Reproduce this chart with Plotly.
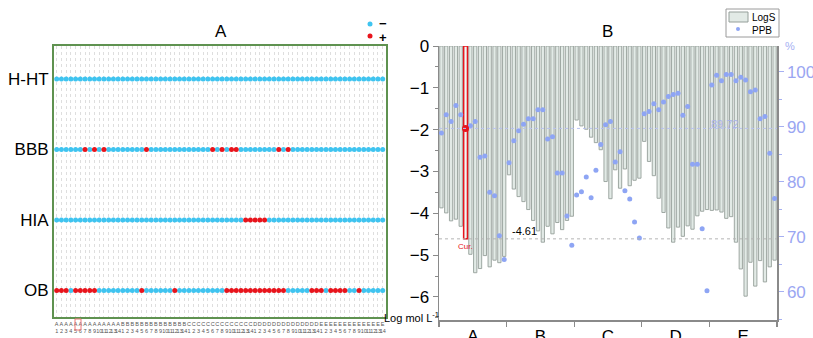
import plotly.graph_objects as go

W, H = 813, 338
FONT = "Arial, 'Liberation Sans', sans-serif"

# ---------------- data ----------------
groups = ["A", "B", "C", "D", "E"]
group_size = 14
numbers = [str(k) for k in range(1, 15)]
properties = ["H-HT", "BBB", "HIA", "OB"]

# 1 = "+" (red), 0 = "-" (cyan); 14 compounds per group A..E
flags_HHT = [0,0,0,0,0,0,0,0,0,0,0,0,0,0,  0,0,0,0,0,0,0,0,0,0,0,0,0,0,
             0,0,0,0,0,0,0,0,0,0,0,0,0,0,  0,0,0,0,0,0,0,0,0,0,0,0,0,0,
             0,0,0,0,0,0,0,0,0,0,0,0,0,0]
flags_BBB = [0,0,0,0,0,0,1,0,1,0,1,0,0,0,  0,0,0,0,0,1,0,0,0,0,0,0,0,0,
             0,0,0,0,0,1,0,1,0,1,1,0,0,0,  0,0,0,0,0,1,0,1,0,0,0,0,0,0,
             0,0,0,0,0,0,0,0,0,0,0,0,0,0]
flags_HIA = [0,0,0,0,0,0,0,0,0,0,0,0,0,0,  0,0,0,0,0,0,0,0,0,0,0,0,0,0,
             0,0,0,0,0,0,0,0,0,0,0,0,1,1,  1,1,1,0,0,0,0,0,0,0,0,0,0,0,
             0,0,0,0,0,0,0,0,0,0,0,0,0,0]
flags_OB  = [1,1,1,0,1,1,1,1,1,0,0,0,0,0,  0,0,0,0,1,0,0,0,0,0,0,1,0,0,
             0,0,0,0,0,0,0,0,1,1,1,1,1,1,  1,1,1,1,1,1,1,0,0,0,0,0,1,1,
             1,0,1,1,1,1,0,0,1,0,0,0,0,0]

# LogS (log mol/L) per compound
logS_A = [-3.87, -3.99, -4.18, -4.14, -4.31, -4.61, -4.98, -5.42, -5.32, -5.01, -5.28, -5.12, -5.18, -5.03]
logS_B = [-3.08, -3.42, -3.60, -3.72, -3.91, -4.17, -4.42, -4.69, -4.31, -4.49, -4.22, -4.39, -4.17, -4.07]
logS_C = [-1.77, -1.91, -1.99, -2.18, -2.31, -2.48, -3.24, -3.65, -2.96, -3.40, -2.94, -3.34, -3.21, -3.16]
logS_D = [-2.28, -2.76, -3.10, -3.64, -3.98, -4.35, -4.69, -4.33, -4.55, -4.30, -4.38, -4.06, -3.95, -3.91]
logS_E = [-3.93, -3.92, -3.97, -4.12, -4.08, -4.69, -5.33, -5.98, -5.17, -5.74, -5.13, -5.64, -5.28, -5.12]

# PPB (%) per compound
ppb_A = [88.9, 92.2, 91.0, 93.9, 92.2, 89.72, 90.2, 91.0, 84.5, 84.7, 78.1, 77.5, 70.2, 65.9]
ppb_B = [83.5, 87.5, 89.3, 90.5, 91.5, 91.5, 93.1, 93.1, 87.8, 88.2, 81.6, 81.6, 73.8, 68.5]
ppb_C = [77.6, 78.2, 80.9, 77.1, 82.1, 86.8, 90.4, 91.0, 83.6, 85.5, 78.4, 76.9, 72.7, 69.8]
ppb_D = [92.4, 92.8, 94.2, 93.1, 94.5, 95.5, 95.9, 96.1, 92.1, 93.7, 83.2, 83.2, 71.5, 60.2]
ppb_E = [97.6, 99.4, 98.4, 99.5, 99.5, 98.4, 99.0, 98.5, 96.4, 96.7, 91.5, 91.9, 85.2, 77.0]

current_index = 5          # compound A6
right_ticks = [60, 70, 80, 90, 100]

# ---------------- derived ----------------
logS = logS_A + logS_B + logS_C + logS_D + logS_E
ppb = ppb_A + ppb_B + ppb_C + ppb_D + ppb_E
n = len(logS)
idx = list(range(n))
tick_text = [f"{g}<br>{k}" for g in groups for k in numbers]
flag_rows = [flags_HHT, flags_BBB, flags_HIA, flags_OB]
row_pos = {p: len(properties) - 1 - i for i, p in enumerate(properties)}

def px(x):
    return x / W

def py(y):
    return 1 - y / H

CYAN = "#3fc4f0"
RED = "#e8141c"
GREEN = "#5f9250"
BAR_FILL = "#e2eae6"
BAR_LINE = "#959f9a"
PPB_COL = "#8ea5f4"
AX_GRAY = "#8a8a8a"

fig = go.Figure()

# ---------- left panel: dot matrix ----------
for flag_val, col, name in [(0, CYAN, "−"), (1, RED, "+")]:
    xs, ys = [], []
    for p, fl in zip(properties, flag_rows):
        for i, f in enumerate(fl):
            if f == flag_val:
                xs.append(i)
                ys.append(row_pos[p])
    fig.add_trace(go.Scatter(x=xs, y=ys, mode="markers", name=name,
                             marker=dict(color=col, size=5, line=dict(width=0)),
                             xaxis="x", yaxis="y", showlegend=False))

# ---------- right panel ----------
fig.add_trace(go.Bar(x=idx, y=logS, xaxis="x2", yaxis="y2", name="LogS",
                     width=0.68, marker=dict(color=BAR_FILL, line=dict(color=BAR_LINE, width=0.9)),
                     showlegend=False))
fig.add_trace(go.Bar(x=[current_index], y=[logS[current_index]], xaxis="x2", yaxis="y2",
                     width=0.8, marker=dict(color="rgba(255,255,255,0.6)", line=dict(color=RED, width=1.5)),
                     showlegend=False))
fig.add_trace(go.Scatter(x=idx, y=ppb, xaxis="x2", yaxis="y3", mode="markers", name="PPB",
                         marker=dict(color=PPB_COL, size=5, line=dict(width=0)), showlegend=False))
fig.add_trace(go.Scatter(x=[current_index], y=[ppb[current_index]], xaxis="x2", yaxis="y3", mode="markers",
                         marker=dict(color=RED, size=7, line=dict(width=0)), showlegend=False))

lp_x0, lp_x1, lp_y0, lp_y1 = 54, 386, 46, 317
rp_x0, rp_x1, rp_y0, rp_y1 = 439, 777, 46, 320

boundaries = [g * group_size - 0.5 for g in range(len(groups) + 1)]
centers = [g * group_size + (group_size - 1) / 2 for g in range(len(groups))]

fig.update_layout(
    template="none",
    width=W, height=H, margin=dict(l=0, r=0, t=0, b=0, pad=0), autosize=False,
    paper_bgcolor="white", plot_bgcolor="white",
    font=dict(family=FONT, color="#000"),
    barmode="overlay", showlegend=False,
    xaxis=dict(domain=[px(lp_x0), px(lp_x1)], anchor="y", range=[-0.57, n - 0.3], automargin=False,
               tickmode="array", tickvals=idx, ticktext=tick_text, tickangle=0,
               tickfont=dict(size=5.5, color="#555"), ticks="",
               showgrid=True, gridcolor="#dedede", griddash="dot", gridwidth=1,
               showline=True, mirror=True, linecolor=GREEN, linewidth=2, zeroline=False),
    yaxis=dict(domain=[py(lp_y1), py(lp_y0)], anchor="x", range=[-0.376, 3.468], automargin=False,
               tickmode="array", tickvals=[row_pos[p] for p in properties], ticktext=properties,
               tickfont=dict(size=17), ticks="", showgrid=False,
               showline=True, mirror=True, linecolor=GREEN, linewidth=2, zeroline=False),
    xaxis2=dict(domain=[px(rp_x0), px(rp_x1)], anchor="y2", range=[-0.5, n - 0.5], automargin=False,
                tickmode="array", tickvals=centers, ticktext=groups, ticks="",
                tickfont=dict(size=17), showgrid=False, zeroline=False,
                showline=True, linecolor=AX_GRAY, linewidth=1.5,
                minor=dict(tickmode="array", tickvals=boundaries, ticks="outside", ticklen=5,
                           tickcolor=AX_GRAY, tickwidth=1.2, showgrid=False)),
    xaxis3=dict(overlaying="x2", anchor="y2", side="top", range=[-0.5, n - 0.5], automargin=False,
                tickmode="array", tickvals=boundaries, ticks="inside", ticklen=4,
                tickcolor="#444", showticklabels=False, showgrid=False, zeroline=False,
                showline=True, linecolor="#222", linewidth=1.5),
    yaxis2=dict(domain=[py(rp_y1), py(rp_y0)], anchor="x2", range=[-6.55, 0], automargin=False,
                tickmode="linear", tick0=0, dtick=1, ticks="outside", ticklen=5,
                tickcolor=AX_GRAY, tickfont=dict(size=17), showgrid=False, zeroline=False,
                showline=True, linecolor=AX_GRAY, linewidth=1.5,
                minor=dict(dtick=0.5, ticks="outside", ticklen=3, tickcolor=AX_GRAY, showgrid=False)),
    yaxis3=dict(overlaying="y2", anchor="x2", side="right", range=[54.9, 104.7], automargin=False,
                tickmode="array", tickvals=right_ticks, ticks="outside", ticklen=5,
                tickcolor="#a6b0f2", tickfont=dict(size=17, color="#9aa6f2"),
                showgrid=False, zeroline=False, showline=True, linecolor=AX_GRAY, linewidth=1.5,
                minor=dict(dtick=5, ticks="outside", ticklen=3, tickcolor="#a6b0f2", showgrid=False)),
)

shapes = []
# reference lines for the current compound
shapes.append(dict(type="line", xref="x2 domain", yref="y2", x0=0, x1=1,
                   y0=logS[current_index], y1=logS[current_index],
                   line=dict(color="#b5b5b5", width=1, dash="dot"), layer="above"))
shapes.append(dict(type="line", xref="x2 domain", yref="y3", x0=0, x1=1,
                   y0=ppb[current_index], y1=ppb[current_index],
                   line=dict(color="#b9c2f0", width=1, dash="dot"), layer="above"))
# highlight box around current compound label in left panel
shapes.append(dict(type="rect", xref="paper", yref="paper",
                   x0=px(75), x1=px(81), y0=py(330), y1=py(319),
                   line=dict(color="#f07878", width=1)))
# left legend dots
shapes.append(dict(type="circle", xref="paper", yref="paper",
                   x0=px(367.5), x1=px(372.5), y0=py(26.5), y1=py(21.5),
                   fillcolor=CYAN, line=dict(width=0)))
shapes.append(dict(type="circle", xref="paper", yref="paper",
                   x0=px(367.5), x1=px(372.5), y0=py(38.5), y1=py(33.5),
                   fillcolor=RED, line=dict(width=0)))
# right legend box
shapes.append(dict(type="rect", xref="paper", yref="paper",
                   x0=px(726), x1=px(779), y0=py(37), y1=py(9),
                   line=dict(color="#9a9a9a", width=1), fillcolor="white", layer="above"))
shapes.append(dict(type="rect", xref="paper", yref="paper",
                   x0=px(729), x1=px(748), y0=py(22), y1=py(12),
                   line=dict(color=BAR_LINE, width=1), fillcolor=BAR_FILL, layer="above"))
shapes.append(dict(type="circle", xref="paper", yref="paper",
                   x0=px(736), x1=px(740), y0=py(31), y1=py(27),
                   line=dict(width=0), fillcolor=PPB_COL, layer="above"))
fig.update_layout(shapes=shapes)

ann = []
def A(text, x, y, size, color="#000", xanchor="center", yanchor="middle", **kw):
    ann.append(dict(text=text, x=x, y=y, xref=kw.pop("xref", "paper"), yref=kw.pop("yref", "paper"),
                    showarrow=False, font=dict(size=size, color=color, family=FONT),
                    xanchor=xanchor, yanchor=yanchor, **kw))

A("A", px(221), py(31), 17)
A("B", px(607), py(31), 17)
A("<b>−</b>", px(377), py(23), 13, xanchor="left")
A("<b>+</b>", px(377), py(37), 13, xanchor="left")
A("LogS", px(750), py(17), 10, xanchor="left")
A("PPB", px(750), py(30), 10, xanchor="left")
A("%", px(790), py(46), 11, color="#a6b0f2")
A("Log mol L<sup>-1</sup>", px(441), py(317), 11, xanchor="right")
A(f"{logS[current_index]:.2f}", px(510), logS[current_index], 11, xanchor="left",
  yanchor="bottom", yref="y2")
A(f"{ppb[current_index]:.2f}", px(709), ppb[current_index], 11, color="#a9b2ea",
  xanchor="left", yanchor="middle", yref="y3", yshift=4)
A("Cur.", current_index, logS[current_index], 8, color=RED, yanchor="top", xref="x2", yref="y2", yshift=-1)
fig.update_layout(annotations=ann)

fig.write_html("out.html", config={"displayModeBar": False, "staticPlot": True},
               post_script="document.body.style.margin='0px';document.body.style.overflow='hidden';")
